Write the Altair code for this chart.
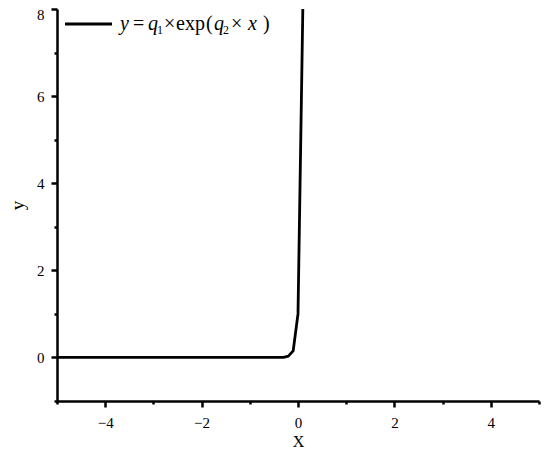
import altair as alt
import pandas as pd

# Data
x_vals = [-5.0, -0.3, -0.2, -0.1, 0.0, 0.1]
y_vals = [0.0, 0.003, 0.03, 0.15, 1.0, 8.0]

x_ticks = [-5, -4, -3, -2, -1, 0, 1, 2, 3, 4, 5]
y_ticks = [-1, 0, 1, 2, 3, 4, 5, 6, 7, 8]

# legend equation pieces: (text, italic, subscript)
legend_parts = [
    ("y", True, False),
    ("=", False, False),
    ("q", True, False),
    ("1", False, True),
    ("\u00d7", False, False),
    ("exp", False, False),
    ("(", False, False),
    ("q", True, False),
    ("2", False, True),
    ("\u00d7", False, False),
    ("x", True, False),
    (")", False, False),
]
legend_x = [63, 76, 91, 100, 107, 119, 149, 157, 166, 174, 191, 206]

df = pd.DataFrame({"x": x_vals, "y": y_vals})

FONT = "Liberation Serif"

major = "datum.value % 2 === 0"

x_axis = alt.Axis(
    values=x_ticks,
    labelExpr=f"{major} ? datum.label : ''",
    tickSize=alt.ConditionalAxisNumber(condition={"test": major, "value": 6}, value=3),
    tickWidth=2.5,
    tickColor="black",
    domainColor="black",
    domainWidth=2.5,
    grid=False,
    labelFont=FONT,
    labelFontSize=15,
    labelColor="black",
    labelPadding=8,
    title="X",
    titleFont=FONT,
    titleFontSize=16,
    titleFontWeight="normal",
    titleColor="black",
    titlePadding=3,
)

y_axis = alt.Axis(
    values=y_ticks,
    labelExpr=f"{major} ? datum.label : ''",
    tickSize=alt.ConditionalAxisNumber(condition={"test": major, "value": 6}, value=3),
    tickWidth=2.5,
    tickColor="black",
    domainColor="black",
    domainWidth=2.5,
    grid=False,
    labelFont=FONT,
    labelFontSize=15,
    labelColor="black",
    labelPadding=7,
    labelBaseline=alt.ConditionalAxisLabelBaseline(
        condition={"test": "datum.value === 8", "value": "top"}, value="middle"
    ),
    labelOffset=alt.ConditionalAxisNumber(
        condition={"test": "datum.value === 8", "value": -2}, value=0
    ),
    title="y",
    titleFont=FONT,
    titleFontSize=19,
    titleFontWeight="normal",
    titleColor="black",
    titlePadding=9,
)

line = alt.Chart(df).mark_line(
    color="black", strokeWidth=2.8, strokeJoin="round", clip=True
).encode(
    x=alt.X("x:Q", scale=alt.Scale(domain=[-5, 5], nice=False, zero=False), axis=x_axis),
    y=alt.Y("y:Q", scale=alt.Scale(domain=[-1, 8], nice=False, zero=False), axis=y_axis),
    order=alt.Order("x:Q"),
)

one = pd.DataFrame({"k": [0]})

legend_line = alt.Chart(one).mark_rule(
    color="black", strokeWidth=2.8
).encode(x=alt.value(8), x2=alt.value(55), y=alt.value(15))

layers = [line, legend_line]
for (txt, ital, sub), px in zip(legend_parts, legend_x):
    layers.append(
        alt.Chart(one).mark_text(
            text=txt,
            font=FONT,
            fontSize=12 if sub else 20,
            fontStyle="italic" if ital else "normal",
            align="left",
            baseline="alphabetic",
            color="black",
        ).encode(x=alt.value(px), y=alt.value(25 if sub else 21))
    )

chart = alt.layer(*layers).properties(
    width=482,
    height=392,
    autosize=alt.AutoSizeParams(type="none"),
    padding={"left": 49, "top": 1, "right": 3, "bottom": 53},
).configure_view(stroke=None)

chart.save("out.html", embed_options={"renderer": "svg", "actions": False})
